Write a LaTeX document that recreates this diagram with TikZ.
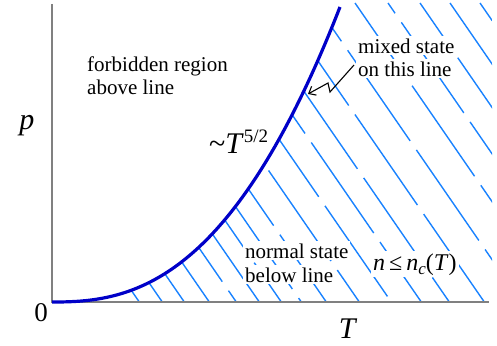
\documentclass[tikz,border=0pt]{standalone}
\usepackage{fontspec}
\setmainfont{Liberation Serif}
\usetikzlibrary{arrows.meta}
\definecolor{axisgray}{RGB}{128,128,128}
\definecolor{curveblue}{RGB}{0,0,200}
\definecolor{hatchblue}{RGB}{25,130,255}
\begin{document}
\begin{tikzpicture}[x=1pt,y=-1pt,
  lbl/.style={inner sep=0pt, anchor=base west, font=\fontsize{21}{24}\selectfont},
  masked/.style={fill=white, inner xsep=2pt, inner ysep=2pt},
  biglbl/.style={inner sep=0pt, anchor=base, font=\fontsize{30}{30}\selectfont},
  hatchline/.style={draw=hatchblue, line width=1.4pt},
  axisline/.style={draw=axisgray, line width=1.8pt},
  curveline/.style={draw=curveblue, line width=3.2pt},
  zigarrow/.style={draw=black, line width=1.1pt, -{Straight Barb[length=6pt,width=10pt]}}]
\useasboundingbox (0,0) rectangle (497,345);
\coordinate (origin) at (52,302);
\coordinate (ytop) at (52,4);
\coordinate (xend) at (489,302);
% hatching
\begin{scope}
\clip (52,302) -- plot[domain=0:288, samples=80] ({52+\x},{302-20.96*(\x/100)^2*sqrt(\x/100)}) -- (340,2) -- (492,2) -- (492,302) -- cycle;
\foreach \b [count=\i] in {140,163,185,210,237,260,282,302,327,360,392,422,450,485,522,562,595,627,657,687} {
  \draw[hatchline, dash pattern=on 110pt off 11pt, dash phase={mod(\i*43,120)*1pt}] (\b,303) -- ++(-207,-300);
}
\end{scope}
% texts
\node[lbl] (forb1) at (87,71) {forbidden region};
\node[lbl] (forb2) at (87,94) {above line};
\node[lbl, masked] (mix1) at (356,53) {mixed state};
\node[lbl, masked] (mix2) at (356,76) {on this line};
\node[lbl, masked] (norm1) at (243,258) {normal state};
\node[lbl, masked] (norm2) at (243,282) {below line};
\node[lbl, masked, font=\fontsize{24}{24}\selectfont] (ncrit) at (371,270)
  {\textit{n}\,≤\,\textit{n}\raisebox{-4pt}{\fontsize{17}{17}\selectfont\textit{c}}(\textit{T})};
\node[lbl, font=\fontsize{30}{30}\selectfont] (power) at (209,153)
  {\textasciitilde\textit{T}\raisebox{11pt}{\fontsize{19}{19}\selectfont 5/2}};
\node[biglbl] (plabel) at (27,129) {\textit{p}};
\node[biglbl, font=\fontsize{27}{27}\selectfont] (zero) at (41,321) {0};
\node[biglbl] (tlabel) at (348,338) {\textit{T}};
% axes
\draw[axisline] (ytop) -- (origin) -- (xend);
% curve
\draw[curveline] plot[domain=0:288, samples=80] ({52+\x},{302-20.96*(\x/100)^2*sqrt(\x/100)});
% zigzag arrow
\coordinate (z0) at (354,65);
\coordinate (z1) at (330,92);
\coordinate (z2) at (328,83);
\coordinate (z3) at (308,94);
\draw[zigarrow] (z0) -- (z1) -- (z2) -- (z3);
\end{tikzpicture}
\end{document}
